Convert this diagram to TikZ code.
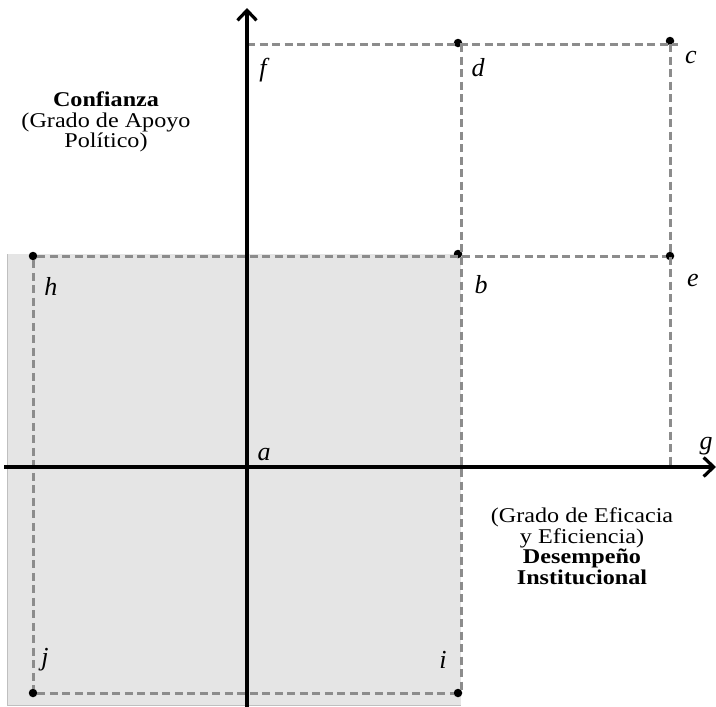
\documentclass[tikz,border=0pt]{standalone}
\usepackage{fontspec}
\setmainfont[FakeStretch=1.15]{Liberation Serif}
\newfontfamily\lblfont{Liberation Serif}
\usetikzlibrary{arrows.meta}
\begin{document}
\begin{tikzpicture}[x=1pt,y=-1pt,
  guide/.style={draw=black!45, line width=3pt, dash pattern=on 8pt off 4.5pt},
  axis/.style={draw=black, line width=3.2pt, -{Straight Barb[length=10pt,width=19pt,line width=3.2pt]}},
  dot/.style={circle, fill=black, inner sep=0pt, minimum size=8.5pt},
  lbl/.style={font=\lblfont\fontsize{26}{26}\selectfont\itshape, inner sep=0pt},
  txt/.style={font=\fontsize{21}{20.5}\selectfont, align=center, inner sep=0pt}]
\useasboundingbox (0,0) rectangle (716,707);
% shaded region
\fill[black!10] (7,254) rectangle (461,705);
\draw[black!25, line width=1pt] (7,705) -- (7,254) (7,705) -- (461,705);
% points
\coordinate (f) at (247,44);
\node[dot] (d) at (458,43) {};
\node[dot] (c) at (670,41) {};
\node[dot] (h) at (33,256) {};
\node[dot] (b) at (458,254) {};
\node[dot] (e) at (670,256) {};
\node[dot] (j) at (33,693) {};
\node[dot] (i) at (458,693) {};
\coordinate (g) at (670,467);
\coordinate (iv) at (461,693);
\coordinate (dv) at (461,44);
\coordinate (cv) at (670,44);
% guides
\draw[guide] (f) -- (cv) -- ++(8,0);
\draw[guide] (dv) -- (iv);
\draw[guide] (cv) -- (g);
\draw[guide] (h) -- (e);
\draw[guide] (h) -- (j) -- (i);
% axes
\coordinate (ybot) at (247,707);
\coordinate (ytop) at (247,8);
\coordinate (xl) at (4,467);
\coordinate (xr) at (716,467);
\draw[axis] (ybot) -- (ytop);
\draw[axis] (xl) -- (xr);
% labels
\node[lbl] (lf) at (263,70) {f};
\node[lbl] (ld) at (478,68) {d};
\node[lbl] (lc) at (691,58) {c};
\node[lbl] (lh) at (51,286) {h};
\node[lbl] (lb) at (481,285) {b};
\node[lbl] (le) at (693,280) {e};
\node[lbl] (la) at (264,455) {a};
\node[lbl] (lg) at (706,446) {g};
\node[lbl] (lj) at (45,660) {j};
\node[lbl] (li) at (443,660) {i};
% texts
\node[txt] (conf) at (106,122) {\textbf{Confianza}\\(Grado de Apoyo\\Político)};
\node[txt] (des) at (582,546) {(Grado de Eficacia\\y Eficiencia)\\\textbf{Desempeño}\\\textbf{Institucional}};
\end{tikzpicture}
\end{document}
